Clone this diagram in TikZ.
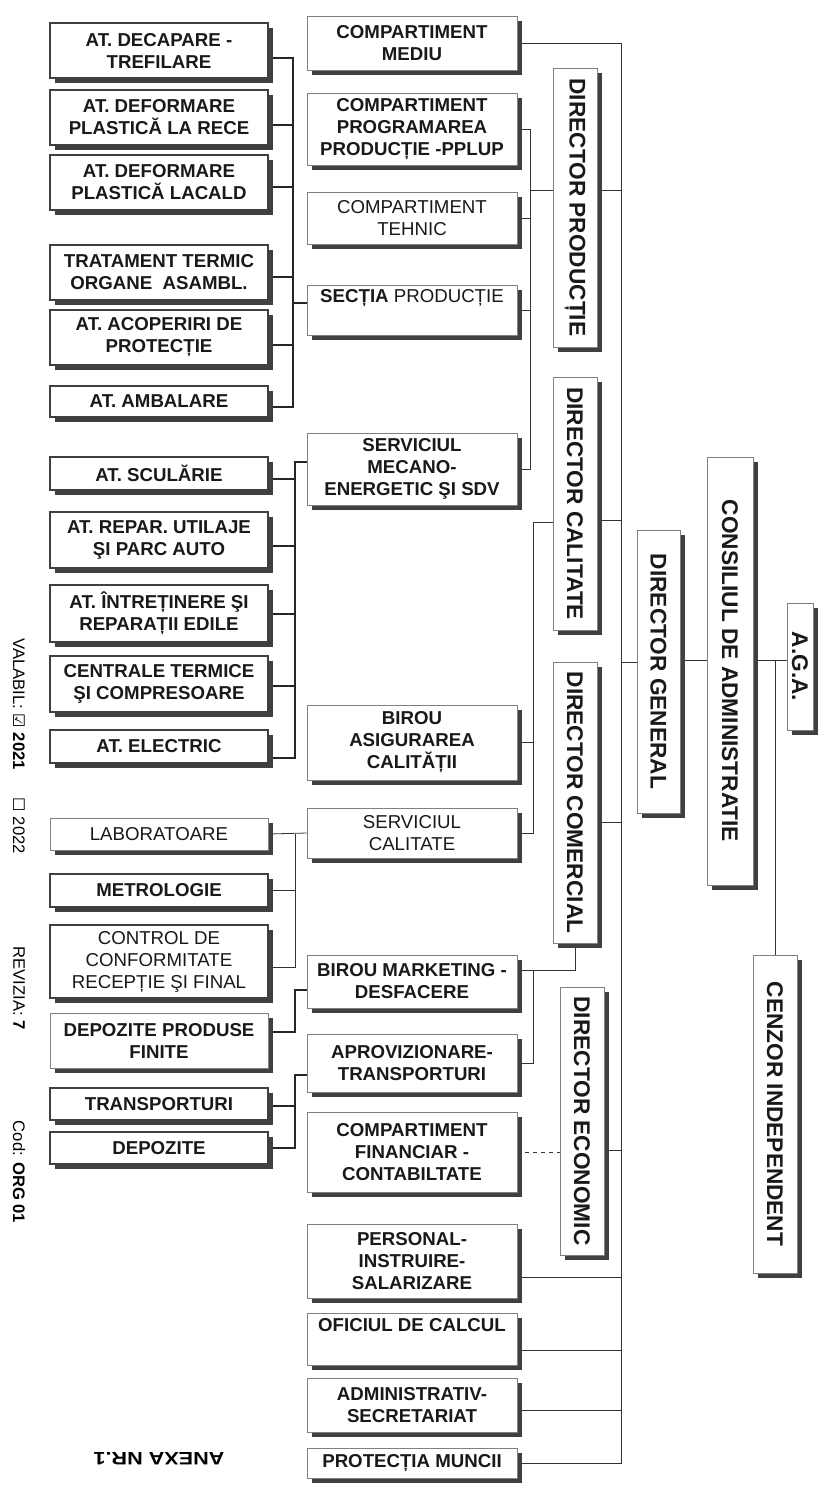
\documentclass[tikz,border=0pt]{standalone}
\usepackage{fontspec}
\setmainfont{Liberation Sans}
\newfontfamily\djv{DejaVu Sans}
\usetikzlibrary{backgrounds}
\tikzset{
 bx/.style={draw=black!50, line width=0.5pt, fill=white, inner sep=1pt, align=center, font=\fontsize{14}{16.5}\selectfont\bfseries, text=black!90},
 lbx/.style={bx, draw=black!75, line width=0.9pt},
 reg/.style={font=\fontsize{14}{16.5}\selectfont},
 vbox/.style={bx, rotate=-90, font=\fontsize{17}{20}\selectfont\bfseries},
 ln/.style={draw=black!80, line width=0.6pt},
 lnb/.style={draw=black!85, line width=1pt},
 sidetxt/.style={rotate=-90, font=\fontsize{12.5}{14}\selectfont, inner sep=0pt},
 shadowc/.style={fill=black!75},
}
\newcommand\bx[7]{\fill[shadowc] (#2+5,#3+5) rectangle (#4+5,#5+5);
 \node[#6, minimum width={(#4-#2)*0.75pt}, minimum height={(#5-#3)*0.75pt}] (#1) at ({(#2+#4)/2},{(#3+#5)/2}) {#7};}
\newcommand\vbx[6]{\fill[shadowc] (#2+5,#3+5) rectangle (#4+5,#5+5);
 \node[vbox, minimum width={(#5-#3)*0.75pt}, minimum height={(#4-#2)*0.75pt}] (#1) at ({(#2+#4)/2},{(#3+#5)/2}) {#6};}
\begin{document}
\begin{tikzpicture}[x=0.75pt,y=-0.75pt]
\useasboundingbox (0,0) rectangle (819,1495);
% ---------- left column ----------
\bx{decap}{50}{23}{268}{78}{lbx}{AT. DECAPARE -\\TREFILARE}
\bx{rece}{50}{90}{268}{145}{lbx}{AT. DEFORMARE\\PLASTICĂ LA RECE}
\bx{cald}{50}{155}{268}{210}{lbx}{AT. DEFORMARE\\PLASTICĂ LACALD}
\bx{trat}{50}{245}{268}{300}{lbx}{TRATAMENT TERMIC\\ORGANE\ \ ASAMBL.}
\bx{acop}{50}{310}{268}{365}{lbx}{AT. ACOPERIRI DE\\PROTECȚIE}
\bx{ambal}{50}{386}{268}{417}{lbx}{AT. AMBALARE}
\bx{scul}{50}{457}{268}{490}{lbx}{AT. SCULĂRIE}
\bx{repar}{50}{512}{268}{568}{lbx}{AT. REPAR. UTILAJE\\ŞI PARC AUTO}
\bx{intret}{50}{585}{268}{642}{lbx}{AT. ÎNTREȚINERE ŞI\\REPARAȚII EDILE}
\bx{centr}{50}{656}{268}{712}{lbx}{CENTRALE TERMICE\\ŞI COMPRESOARE}
\bx{electr}{50}{730}{268}{763}{lbx}{AT. ELECTRIC}
\bx{lab}{50}{818}{268}{850}{bx,reg}{LABORATOARE}
\bx{metro}{50}{874}{268}{907}{lbx}{METROLOGIE}
\bx{control}{50}{925}{268}{998}{lbx,reg}{CONTROL DE\\CONFORMITATE\\RECEPȚIE ŞI FINAL}
\bx{depprod}{50}{1013}{268}{1068}{bx}{DEPOZITE PRODUSE\\FINITE}
\bx{transp}{50}{1088}{268}{1120}{lbx}{TRANSPORTURI}
\bx{depoz}{50}{1132}{268}{1164}{lbx}{DEPOZITE}
% ---------- middle column ----------
\bx{mediu}{307}{16}{517}{70}{bx}{COMPARTIMENT\\MEDIU}
\bx{prog}{307}{93}{517}{165}{bx}{COMPARTIMENT\\PROGRAMAREA\\PRODUCȚIE -PPLUP}
\bx{tehnic}{307}{192}{517}{244}{bx,reg}{COMPARTIMENT\\TEHNIC}
\bx{sectia}{307}{285}{517}{335}{bx}{SECȚIA {\mdseries PRODUCȚIE}\\\strut}
\bx{mecano}{307}{433}{517}{505}{bx}{SERVICIUL\\MECANO-\\ENERGETIC ŞI SDV}
\bx{birou}{307}{705}{517}{780}{bx}{BIROU\\ASIGURAREA\\CALITĂȚII}
\bx{servcal}{307}{808}{517}{858}{bx,reg}{SERVICIUL\\CALITATE}
\bx{market}{307}{955}{517}{1008}{bx}{BIROU MARKETING -\\DESFACERE}
\bx{aprov}{307}{1034}{517}{1092}{bx}{APROVIZIONARE-\\TRANSPORTURI}
\bx{finan}{307}{1112}{517}{1192}{bx}{COMPARTIMENT\\FINANCIAR -\\CONTABILTATE}
\bx{pers}{307}{1224}{517}{1298}{bx}{PERSONAL-\\INSTRUIRE-\\SALARIZARE}
\bx{ofic}{307}{1313}{517}{1365}{bx}{OFICIUL DE CALCUL\\\strut}
\bx{admin}{307}{1378}{517}{1432}{bx}{ADMINISTRATIV-\\SECRETARIAT}
\bx{protectia}{307}{1448}{517}{1478}{bx}{PROTECȚIA MUNCII}
% ---------- directors ----------
\vbx{dp}{553}{68}{597}{347}{DIRECTOR PRODUCȚIE}
\vbx{dcal}{553}{377}{597}{630}{DIRECTOR CALITATE}
\vbx{dcom}{553}{662}{597}{943}{DIRECTOR COMERCIAL}
\vbx{dec}{560}{987}{604}{1255}{DIRECTOR ECONOMIC}
\vbx{dg}{637}{530}{680}{813}{DIRECTOR GENERAL}
\vbx{ca}{707}{457}{753}{885}{CONSILIUL DE ADMINISTRATIE}
\vbx{aga}{787}{603}{813}{730}{A.G.A.}
\vbx{cenzor}{753}{955}{797}{1273}{CENZOR INDEPENDENT}
% ---------- side texts ----------
\node[sidetxt] (valabil) at (19,704) {VALABIL: {\djv\fontsize{12}{13}\selectfont ☑} \textbf{2021}};
\node[sidetxt] (v2022) at (19,826) {{\djv\fontsize{12}{13}\selectfont ☐} 2022};
\node[sidetxt] (revizia) at (19,988) {REVIZIA: \textbf{7}};
\node[sidetxt] (cod) at (19,1172) {Cod: \textbf{ORG 01}};
\node[rotate=180, xscale=1.2, font=\fontsize{13.5}{16}\selectfont\bfseries, inner sep=0pt] (anexa) at (159,1459) {ANEXA NR.1};
% ---------- connectors ----------
\coordinate (mb) at (621,0);
\coordinate (pb) at (530,0);
\coordinate (qb) at (533,0);
\coordinate (lb) at (293,0);
\coordinate (lc) at (295,0);
\begin{pgfonlayer}{background}
\fill[white] (0,0) rectangle (819,1495);
% main bus
\draw[ln] (mediu.east) -| (mb |- protectia.east) -- (protectia.east);
\draw[ln] (dp.north |- 0,190) -- (mb |- 0,190);
\draw[ln] (dcal.north |- 0,520) -- (mb |- 0,520);
\draw[ln] (dg.south |- 0,662) -- (mb |- 0,662);
\draw[ln] (dcom.north |- 0,822) -- (mb |- 0,822);
\draw[ln] (dec.north |- 0,1150) -- (mb |- 0,1150);
\draw[ln] (pers.east |- 0,1277) -- (mb |- 0,1277);
\draw[ln] (ofic.east |- 0,1350) -- (mb |- 0,1350);
\draw[ln] (admin.east |- 0,1410) -- (mb |- 0,1410);
% production
\draw[ln] (prog.east) -| (pb |- mecano.east) -- (mecano.east);
\draw[ln] (tehnic.east) -- (tehnic.east -| pb);
\draw[ln] (sectia.east) -- (sectia.east -| pb);
\draw[ln] (dp.south |- 0,190) -- (pb |- 0,190);
% quality
\draw[ln] (dcal.south |- 0,522) -| (qb |- servcal.east) -- (servcal.east);
\draw[ln] (birou.east) -- (birou.east -| qb);
% commercial
\draw[ln] (dcom.east) -- (dcom.east |- 0,970) -- (market.east |- 0,970);
\draw[ln] (qb |- 0,970) -- (qb |- aprov.east) -- (aprov.east);
% economic
\draw[ln, dashed] (finan.east) -- (dec.south |- finan.east);
% general / board
\draw[ln] (dg.north |- 0,660) -- (ca.south |- 0,660);
\draw[ln] (ca.north |- 0,660) -- (aga.south |- 0,660);
\draw[ln] (cenzor.west) -- (cenzor.west |- 0,660);
% left top group
\draw[lnb] (decap.east |- 0,58) -| (lb |- 0,407) -- (ambal.east |- 0,407);
\draw[lnb] (rece.east |- 0,125) -- (lb |- 0,125);
\draw[lnb] (cald.east |- 0,187) -- (lb |- 0,187);
\draw[lnb] (trat.east |- 0,277) -- (lb |- 0,277);
\draw[lnb] (acop.east |- 0,345) -- (lb |- 0,345);
\draw[lnb] (sectia.west |- 0,303) -- (lb |- 0,303);
% mecano group
\draw[lnb] (mecano.west |- 0,462) -| (lc |- 0,758) -- (electr.east |- 0,758);
\draw[lnb] (scul.east |- 0,479) -- (lc |- 0,479);
\draw[lnb] (repar.east |- 0,546) -- (lc |- 0,546);
\draw[lnb] (intret.east |- 0,614) -- (lc |- 0,614);
\draw[lnb] (centr.east |- 0,686) -- (lc |- 0,686);
% quality left group
\draw[ln] (lab.east) -- (servcal.west);
\draw[ln] (lc |- lab.east) -- (lc |- 0,967) -- (control.east |- 0,967);
\draw[ln] (metro.east |- 0,890) -- (lc |- 0,890);
% marketing / aprov groups
\draw[lnb] (market.west |- 0,990) -| (lc |- 0,1032) -- (depprod.east |- 0,1032);
\draw[lnb] (aprov.west |- 0,1075) -| (lc |- depoz.east) -- (depoz.east);
\draw[lnb] (transp.east |- 0,1106) -- (lc |- 0,1106);
\end{pgfonlayer}
\end{tikzpicture}
\end{document}
